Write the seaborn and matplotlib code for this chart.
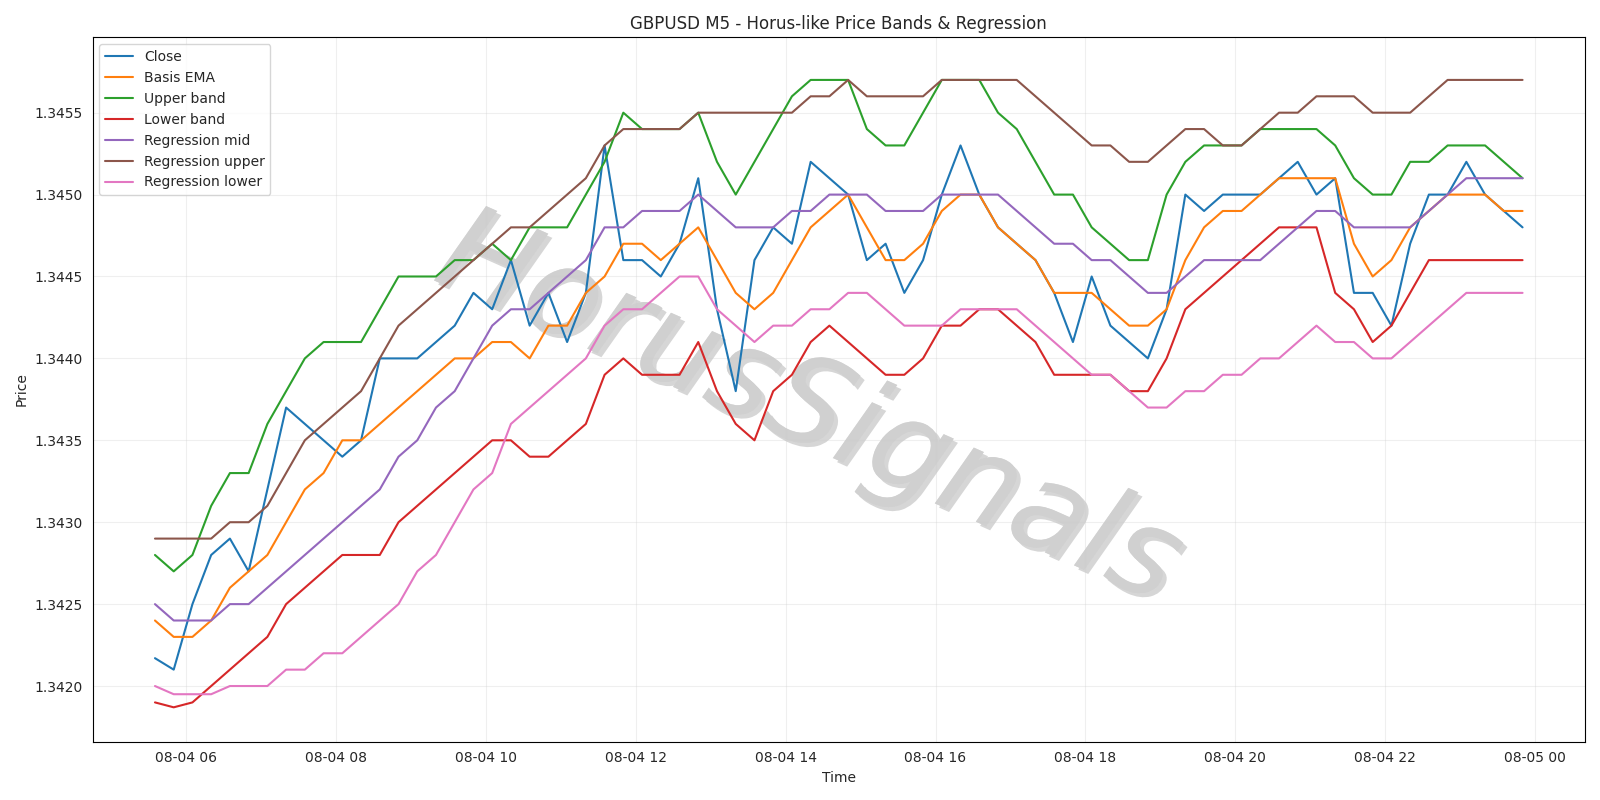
import matplotlib
matplotlib.use("Agg")
import matplotlib.dates as mdates
import matplotlib.patheffects as pe
import matplotlib.pyplot as plt
import numpy as np
import pandas as pd
import seaborn as sns

# GBPUSD M5, sampled every 15 minutes from 05:35
close = [1.34217, 1.3421, 1.3425, 1.3428, 1.3429, 1.3427, 1.3432, 1.3437, 1.3436, 1.3435,
         1.3434, 1.3435, 1.3440, 1.3440, 1.3440, 1.3441, 1.3442, 1.3444, 1.3443, 1.3446,
         1.3442, 1.3444, 1.3441, 1.3444, 1.3453, 1.3446, 1.3446, 1.3445, 1.3447, 1.3451,
         1.3443, 1.3438, 1.3446, 1.3448, 1.3447, 1.3452, 1.3451, 1.3450, 1.3446, 1.3447,
         1.3444, 1.3446, 1.3450, 1.3453, 1.3450, 1.3448, 1.3447, 1.3446, 1.3444, 1.3441,
         1.3445, 1.3442, 1.3441, 1.3440, 1.3443, 1.3450, 1.3449, 1.3450, 1.3450, 1.3450,
         1.3451, 1.3452, 1.3450, 1.3451, 1.3444, 1.3444, 1.3442, 1.3447, 1.3450, 1.3450,
         1.3452, 1.3450, 1.3449, 1.3448]
basis = [1.3424, 1.3423, 1.3423, 1.3424, 1.3426, 1.3427, 1.3428, 1.3430, 1.3432, 1.3433,
         1.3435, 1.3435, 1.3436, 1.3437, 1.3438, 1.3439, 1.3440, 1.3440, 1.3441, 1.3441,
         1.3440, 1.3442, 1.3442, 1.3444, 1.3445, 1.3447, 1.3447, 1.3446, 1.3447, 1.3448,
         1.3446, 1.3444, 1.3443, 1.3444, 1.3446, 1.3448, 1.3449, 1.3450, 1.3448, 1.3446,
         1.3446, 1.3447, 1.3449, 1.3450, 1.3450, 1.3448, 1.3447, 1.3446, 1.3444, 1.3444,
         1.3444, 1.3443, 1.3442, 1.3442, 1.3443, 1.3446, 1.3448, 1.3449, 1.3449, 1.3450,
         1.3451, 1.3451, 1.3451, 1.3451, 1.3447, 1.3445, 1.3446, 1.3448, 1.3449, 1.3450,
         1.3450, 1.3450, 1.3449, 1.3449]
upper = [1.3428, 1.3427, 1.3428, 1.3431, 1.3433, 1.3433, 1.3436, 1.3438, 1.3440, 1.3441,
         1.3441, 1.3441, 1.3443, 1.3445, 1.3445, 1.3445, 1.3446, 1.3446, 1.3447, 1.3446,
         1.3448, 1.3448, 1.3448, 1.3450, 1.3452, 1.3455, 1.3454, 1.3454, 1.3454, 1.3455,
         1.3452, 1.3450, 1.3452, 1.3454, 1.3456, 1.3457, 1.3457, 1.3457, 1.3454, 1.3453,
         1.3453, 1.3455, 1.3457, 1.3457, 1.3457, 1.3455, 1.3454, 1.3452, 1.3450, 1.3450,
         1.3448, 1.3447, 1.3446, 1.3446, 1.3450, 1.3452, 1.3453, 1.3453, 1.3453, 1.3454,
         1.3454, 1.3454, 1.3454, 1.3453, 1.3451, 1.3450, 1.3450, 1.3452, 1.3452, 1.3453,
         1.3453, 1.3453, 1.3452, 1.3451]
lower = [1.3419, 1.34187, 1.3419, 1.3420, 1.3421, 1.3422, 1.3423, 1.3425, 1.3426, 1.3427,
         1.3428, 1.3428, 1.3428, 1.3430, 1.3431, 1.3432, 1.3433, 1.3434, 1.3435, 1.3435,
         1.3434, 1.3434, 1.3435, 1.3436, 1.3439, 1.3440, 1.3439, 1.3439, 1.3439, 1.3441,
         1.3438, 1.3436, 1.3435, 1.3438, 1.3439, 1.3441, 1.3442, 1.3441, 1.3440, 1.3439,
         1.3439, 1.3440, 1.3442, 1.3442, 1.3443, 1.3443, 1.3442, 1.3441, 1.3439, 1.3439,
         1.3439, 1.3439, 1.3438, 1.3438, 1.3440, 1.3443, 1.3444, 1.3445, 1.3446, 1.3447,
         1.3448, 1.3448, 1.3448, 1.3444, 1.3443, 1.3441, 1.3442, 1.3444, 1.3446, 1.3446,
         1.3446, 1.3446, 1.3446, 1.3446]
reg_mid = [1.3425, 1.3424, 1.3424, 1.3424, 1.3425, 1.3425, 1.3426, 1.3427, 1.3428, 1.3429,
           1.3430, 1.3431, 1.3432, 1.3434, 1.3435, 1.3437, 1.3438, 1.3440, 1.3442, 1.3443,
           1.3443, 1.3444, 1.3445, 1.3446, 1.3448, 1.3448, 1.3449, 1.3449, 1.3449, 1.3450,
           1.3449, 1.3448, 1.3448, 1.3448, 1.3449, 1.3449, 1.3450, 1.3450, 1.3450, 1.3449,
           1.3449, 1.3449, 1.3450, 1.3450, 1.3450, 1.3450, 1.3449, 1.3448, 1.3447, 1.3447,
           1.3446, 1.3446, 1.3445, 1.3444, 1.3444, 1.3445, 1.3446, 1.3446, 1.3446, 1.3446,
           1.3447, 1.3448, 1.3449, 1.3449, 1.3448, 1.3448, 1.3448, 1.3448, 1.3449, 1.3450,
           1.3451, 1.3451, 1.3451, 1.3451]
reg_upper = [1.3429, 1.3429, 1.3429, 1.3429, 1.3430, 1.3430, 1.3431, 1.3433, 1.3435, 1.3436,
             1.3437, 1.3438, 1.3440, 1.3442, 1.3443, 1.3444, 1.3445, 1.3446, 1.3447, 1.3448,
             1.3448, 1.3449, 1.3450, 1.3451, 1.3453, 1.3454, 1.3454, 1.3454, 1.3454, 1.3455,
             1.3455, 1.3455, 1.3455, 1.3455, 1.3455, 1.3456, 1.3456, 1.3457, 1.3456, 1.3456,
             1.3456, 1.3456, 1.3457, 1.3457, 1.3457, 1.3457, 1.3457, 1.3456, 1.3455, 1.3454,
             1.3453, 1.3453, 1.3452, 1.3452, 1.3453, 1.3454, 1.3454, 1.3453, 1.3453, 1.3454,
             1.3455, 1.3455, 1.3456, 1.3456, 1.3456, 1.3455, 1.3455, 1.3455, 1.3456, 1.3457,
             1.3457, 1.3457, 1.3457, 1.3457]
reg_lower = [1.3420, 1.34195, 1.34195, 1.34195, 1.3420, 1.3420, 1.3420, 1.3421, 1.3421, 1.3422,
             1.3422, 1.3423, 1.3424, 1.3425, 1.3427, 1.3428, 1.3430, 1.3432, 1.3433, 1.3436,
             1.3437, 1.3438, 1.3439, 1.3440, 1.3442, 1.3443, 1.3443, 1.3444, 1.3445, 1.3445,
             1.3443, 1.3442, 1.3441, 1.3442, 1.3442, 1.3443, 1.3443, 1.3444, 1.3444, 1.3443,
             1.3442, 1.3442, 1.3442, 1.3443, 1.3443, 1.3443, 1.3443, 1.3442, 1.3441, 1.3440,
             1.3439, 1.3439, 1.3438, 1.3437, 1.3437, 1.3438, 1.3438, 1.3439, 1.3439, 1.3440,
             1.3440, 1.3441, 1.3442, 1.3441, 1.3441, 1.3440, 1.3440, 1.3441, 1.3442, 1.3443,
             1.3444, 1.3444, 1.3444, 1.3444]

series = {
    "Close": close,
    "Basis EMA": basis,
    "Upper band": upper,
    "Lower band": lower,
    "Regression mid": reg_mid,
    "Regression upper": reg_upper,
    "Regression lower": reg_lower,
}
times = pd.date_range("2025-08-04 05:35", periods=len(close), freq="15min")

sns.set_style("white")
fig, ax = plt.subplots(figsize=(16, 8), dpi=100)
colors = sns.color_palette("tab10")
for (name, vals), c in zip(series.items(), colors):
    sns.lineplot(x=times[:len(vals)], y=vals, ax=ax, color=c, label=name, linewidth=1.5)

ax.text(0.48, 0.47, "HorusSignals", transform=ax.transAxes, fontsize=88, style="italic",
        fontweight="light", color="#d0d0d0", alpha=0.9, rotation=-24, ha="center",
        va="center", zorder=0,
        path_effects=[pe.withSimplePatchShadow(offset=(3, -3), shadow_rgbFace="#999999",
                                               alpha=0.4), pe.Normal()])

ax.set_title("GBPUSD M5 - Horus-like Price Bands & Regression")
ax.set_xlabel("Time")
ax.set_ylabel("Price")
ax.grid(True, alpha=0.3)
ax.xaxis.set_major_locator(mdates.HourLocator(interval=2))
ax.xaxis.set_major_formatter(mdates.DateFormatter("%m-%d %H"))
ax.set_xlim(pd.Timestamp("2025-08-04 04:45"), pd.Timestamp("2025-08-05 00:40"))
ax.set_ylim(1.34166, 1.34596)
ax.yaxis.set_major_formatter(matplotlib.ticker.FormatStrFormatter("%.4f"))
ax.legend(loc="upper left")
for s in ax.spines.values():
    s.set_color("black")
plt.tight_layout()
plt.savefig("out.png", dpi=100)
